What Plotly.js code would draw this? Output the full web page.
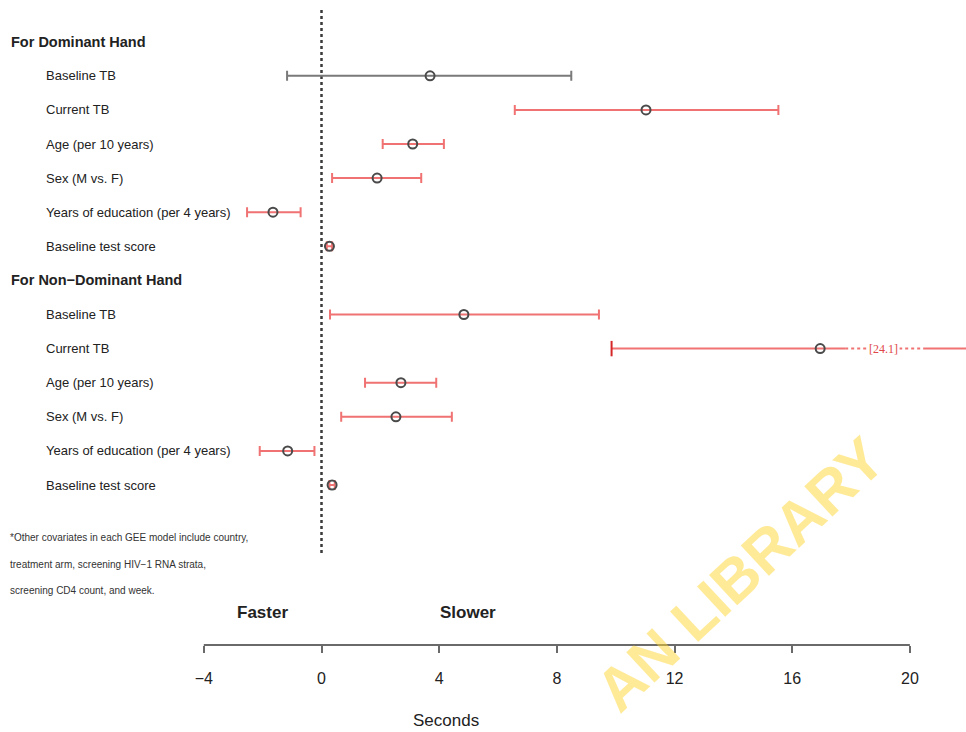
<!DOCTYPE html>
<html>
<head>
<meta charset="utf-8">
<script src="https://cdn.plot.ly/plotly-3.0.1.min.js"></script>
<style>
  html, body { margin: 0; padding: 0; background: #fff; }
  #chart { width: 966px; height: 732px; }
</style>
</head>
<body>
<div id="chart"></div>
<script>
// GEE estimates (seconds) with 95% confidence limits, one panel per hand
const groups = ["For Dominant Hand", "For Non\u2212Dominant Hand"];
const covariates = ["Baseline TB", "Current TB", "Age (per 10 years)", "Sex (M vs. F)",
                    "Years of education (per 4 years)", "Baseline test score"];

const domEst  = [3.69, 11.03, 3.10, 1.89, -1.65, 0.27];
const domLow  = [-1.17, 6.57, 2.08, 0.36, -2.53, 0.18];
const domHigh = [8.49, 15.53, 4.16, 3.39, -0.71, 0.36];

const nonEst  = [4.84, 16.95, 2.70, 2.53, -1.15, 0.36];
const nonLow  = [0.29, 9.86, 1.48, 0.67, -2.10, 0.27];
const nonHigh = [9.43, 24.1, 3.90, 4.43, -0.24, 0.45];

const tickVals = [-4, 0, 4, 8, 12, 16, 20];
const footnote = ["*Other covariates in each GEE model include country,",
                  "treatment arm, screening HIV\u22121 RNA strata,",
                  "screening CD4 count, and week."];

// styling
const RED = "#f07272";
const GREY = "#7a7a7a";
const TEXT = "#222222";
const FONT = "Liberation Sans, Arial, sans-serif";
const AXMIN = tickVals[0], AXMAX = tickVals[tickVals.length - 1];

// row index k: 0 = first header, 1..6 rows, 7 = second header, 8..13 rows
const ROW0 = 41.7, ROWH = 34.1, PLOTH = 645;
const kFromPx = px => (px - ROW0) / ROWH;

const traces = [];
const annotations = [];
const shapes = [];

function addPanel(gi, est, low, high) {
  const base = gi * 7;
  annotations.push({
    xref: "paper", yref: "y", x: 9 / 966, y: base, xanchor: "left", yanchor: "middle",
    text: "<b>" + groups[gi] + "</b>", showarrow: false,
    font: { family: FONT, size: 14.5, color: TEXT }
  });
  const rows = { red: { x: [], y: [], p: [], m: [] }, grey: { x: [], y: [], p: [], m: [] } };
  covariates.forEach((name, i) => {
    const k = base + 1 + i;
    annotations.push({
      xref: "paper", yref: "y", x: 44 / 966, y: k, xanchor: "left", yanchor: "middle",
      text: name, showarrow: false, font: { family: FONT, size: 13, color: TEXT }
    });
    const col = (low[i] > 0 || high[i] < 0) ? "red" : "grey";
    const colour = col === "red" ? RED : GREY;
    if (high[i] > AXMAX) {
      // interval runs past the axis: lower arm with cap, broken upper arm with its value
      const brk0 = AXMAX - 2.2, brk1 = AXMAX + 0.45, lab = AXMAX - 0.9;
      traces.push({ x: [low[i], brk0], y: [k, k], mode: "lines",
        line: { color: colour, width: 2 }, hoverinfo: "skip", showlegend: false });
      traces.push({ x: [low[i]], y: [k], mode: "markers",
        marker: { symbol: "line-ns-open", size: 11, line: { color: colour, width: 2 } },
        hoverinfo: "skip", showlegend: false });
      traces.push({ x: [brk0, brk1], y: [k, k], mode: "lines",
        line: { color: colour, width: 2, dash: "dot" }, hoverinfo: "skip", showlegend: false });
      traces.push({ x: [brk1, high[i]], y: [k, k], mode: "lines",
        line: { color: colour, width: 2 }, hoverinfo: "skip", showlegend: false });
      annotations.push({
        xref: "x", yref: "y", x: lab, y: k, xanchor: "center", yanchor: "middle",
        text: "[" + high[i].toFixed(1) + "]", showarrow: false, bgcolor: "#ffffff",
        borderpad: 1, font: { family: "Liberation Serif, Times New Roman, serif", size: 12, color: "#e04848" }
      });
      traces.push({ x: [est[i]], y: [k], mode: "markers",
        marker: { symbol: "circle-open", size: 9, color: "#4a4a4a", line: { width: 2, color: "#4a4a4a" } },
        hoverinfo: "x", showlegend: false });
    } else {
      rows[col].x.push(est[i]);
      rows[col].y.push(k);
      rows[col].p.push(high[i] - est[i]);
      rows[col].m.push(est[i] - low[i]);
    }
  });
  ["grey", "red"].forEach(col => {
    const r = rows[col];
    if (!r.x.length) return;
    traces.push({
      x: r.x, y: r.y, mode: "markers", type: "scatter", showlegend: false, hoverinfo: "x",
      marker: { symbol: "circle-open", size: 9, color: "#4a4a4a", line: { width: 2, color: "#4a4a4a" } },
      error_x: { type: "data", symmetric: false, array: r.p, arrayminus: r.m,
                 color: col === "red" ? RED : GREY, thickness: 2, width: 5 }
    });
  });
}

addPanel(0, domEst, domLow, domHigh);
addPanel(1, nonEst, nonLow, nonHigh);

// reference line at zero
shapes.push({ type: "line", xref: "x", yref: "y", x0: 0, x1: 0, y0: kFromPx(10), y1: kFromPx(555),
  line: { color: "#3a3a3a", width: 2.5, dash: "dot" }, layer: "below" });
// axis baseline spanning the tick range only
shapes.push({ type: "line", xref: "x", yref: "paper", x0: AXMIN, x1: AXMAX, y0: 0, y1: 0,
  line: { color: "#6a6a6a", width: 2 } });

footnote.forEach((t, i) => {
  annotations.push({ xref: "paper", yref: "y", x: 8 / 966, y: kFromPx([537, 564, 590][i]),
    xanchor: "left", yanchor: "middle", text: t, showarrow: false,
    font: { family: FONT, size: 10, color: "#333" } });
});

annotations.push({ xref: "x", yref: "y", x: -2, y: kFromPx(612), text: "<b>Faster</b>",
  showarrow: false, xanchor: "center", yanchor: "middle", font: { family: FONT, size: 17, color: TEXT } });
annotations.push({ xref: "x", yref: "y", x: 4.99, y: kFromPx(612), text: "<b>Slower</b>",
  showarrow: false, xanchor: "center", yanchor: "middle", font: { family: FONT, size: 17, color: TEXT } });
annotations.push({ xref: "paper", yref: "paper", x: 446 / 966, y: (PLOTH - 720) / PLOTH, text: "Seconds",
  showarrow: false, xanchor: "center", yanchor: "middle", font: { family: FONT, size: 17, color: TEXT } });

// library stamp
annotations.push({ xref: "paper", yref: "paper", x: 740 / 966, y: (PLOTH - 574) / PLOTH,
  text: "<b>AN LIBRARY</b>", showarrow: false, textangle: -43, xanchor: "center", yanchor: "middle",
  font: { family: FONT, size: 60, color: "rgba(255,214,50,0.5)" } });

const px0 = 321.5, pxPerUnit = 29.42;
const layout = {
  width: 966, height: 732,
  margin: { l: 0, r: 0, t: 0, b: 732 - PLOTH, pad: 0 },
  paper_bgcolor: "#ffffff", plot_bgcolor: "#ffffff",
  showlegend: false,
  xaxis: {
    range: [(0 - px0) / pxPerUnit, (966 - px0) / pxPerUnit],
    tickmode: "array", tickvals: tickVals, ticktext: tickVals.map(v => v < 0 ? "\u2212" + Math.abs(v) : String(v)),
    ticks: "outside", ticklen: 7, tickwidth: 2, tickcolor: "#6a6a6a",
    ticklabelstandoff: 12,
    tickfont: { family: FONT, size: 16, color: TEXT },
    showline: false, showgrid: false, zeroline: false, fixedrange: true
  },
  yaxis: {
    range: [kFromPx(PLOTH), kFromPx(0)],
    showticklabels: false, ticks: "", showline: false, showgrid: false, zeroline: false, fixedrange: true
  },
  shapes: shapes,
  annotations: annotations
};

Plotly.newPlot("chart", traces, layout, { staticPlot: true, displayModeBar: false });
</script>
</body>
</html>
